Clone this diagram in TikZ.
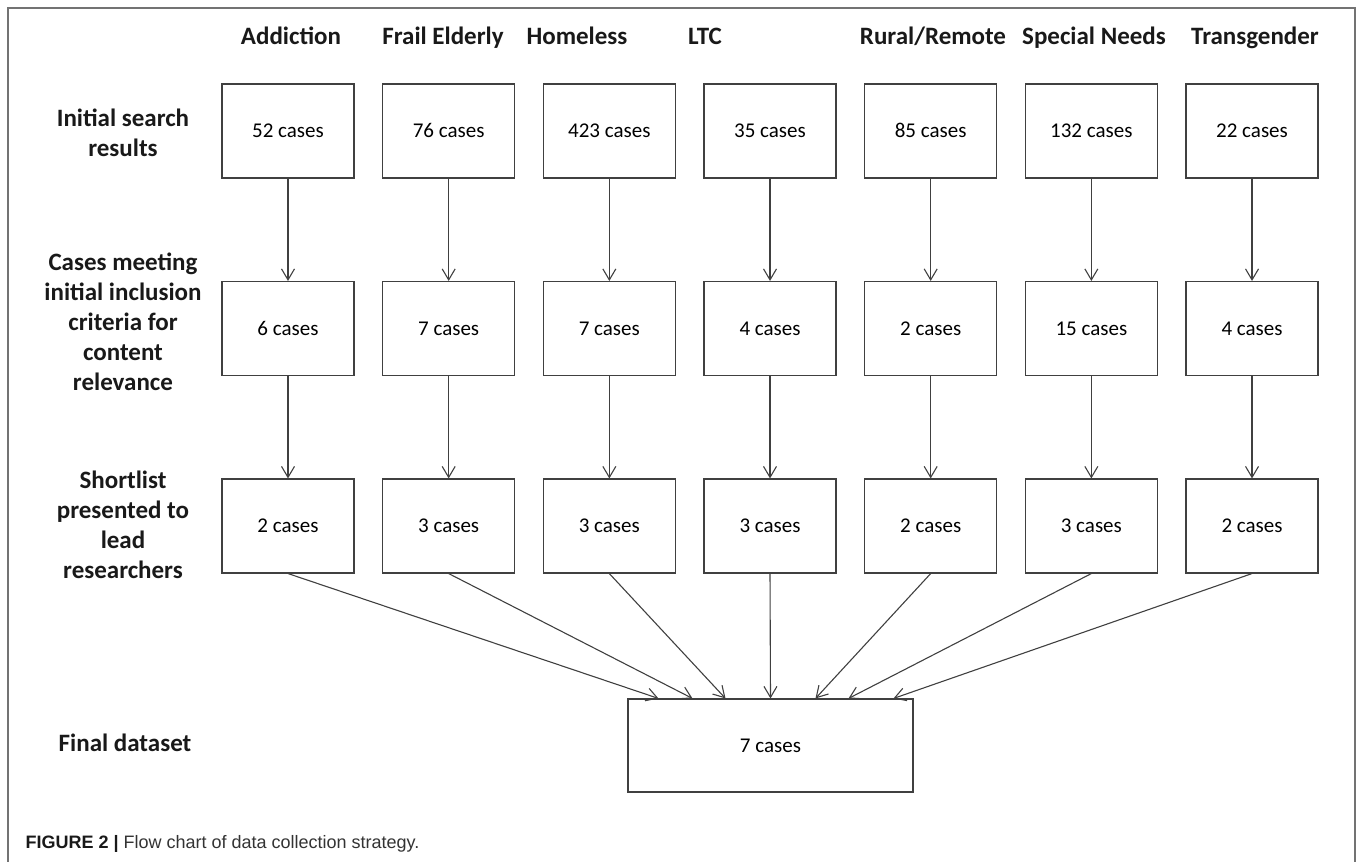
\documentclass[tikz,border=0pt]{standalone}
\usepackage{fontspec}
\setmainfont{Carlito}
\newfontfamily\capfont{Liberation Sans}
\usetikzlibrary{arrows.meta}

\begin{document}
\begin{tikzpicture}[x=1pt,y=1pt,
	box/.style={draw=black!75,line width=1.1pt,minimum width=132pt,minimum height=94pt,inner sep=0pt,text height=14pt,text depth=1pt,font=\fontsize{21}{25}\selectfont},
	head/.style={font=\fontsize{25}{30}\selectfont\bfseries,text=black!90},
	rowlab/.style={head,align=center},
	arr/.style={-{Straight Barb[length=11pt,width=13pt]},draw=black!75,line width=1.1pt}]
	\useasboundingbox (0,0) rectangle (1358,-862);
	% frame
	\draw[black!55,line width=1.5pt] (8,-862) -- (8,-8) -- (1355,-8) -- (1355,-862);
	
	% column titles
	\foreach \x/\t [count=\i] in {291/Addiction,443/Frail Elderly,577/Homeless,705/LTC,933/{Rural/Remote},1094/Special Needs,1255/Transgender}
		\node[head,anchor=base] (h\i) at (\x,-44) {\t};
	
	% row titles
	\node[rowlab] (r1) at (123,-133) {Initial search\\results};
	\node[rowlab] (r2) at (123,-322) {Cases meeting\\initial inclusion\\criteria for\\content\\relevance};
	\node[rowlab] (r3) at (123,-525) {Shortlist\\presented to\\lead\\researchers};
	\node[rowlab] (r4) at (125,-743) {Final dataset};
	
	\node[box,minimum width=285pt,minimum height=93pt] (final) at (770.5,-745.5) {7 cases};
	
	\foreach \a/\b/\c [count=\i from 0] in {52/6/2,76/7/3,423/7/3,35/4/3,85/2/2,132/15/3,22/4/2} {
		\node[box] (s1-\i) at (288+160.67*\i,-131) {\a{} cases};
		\node[box] (s2-\i) at (288+160.67*\i,-328.5) {\b{} cases};
		\node[box] (s3-\i) at (288+160.67*\i,-526) {\c{} cases};
		\draw[arr] (s1-\i) -- (s2-\i);
		\draw[arr] (s2-\i) -- (s3-\i);
	}
	\foreach \dx [count=\i from 0] in {-112,-78,-45,0,45,78,123}
		\draw[arr] (s3-\i.south) -- ([xshift=\dx]final.north);
	
	\node[anchor=base west,font=\capfont\fontsize{18}{22}\selectfont,text=black!80] (cap) at (22,-848) {\textbf{\color{black!90}FIGURE 2 |} Flow chart of data collection strategy.};
\end{tikzpicture}
\end{document}
